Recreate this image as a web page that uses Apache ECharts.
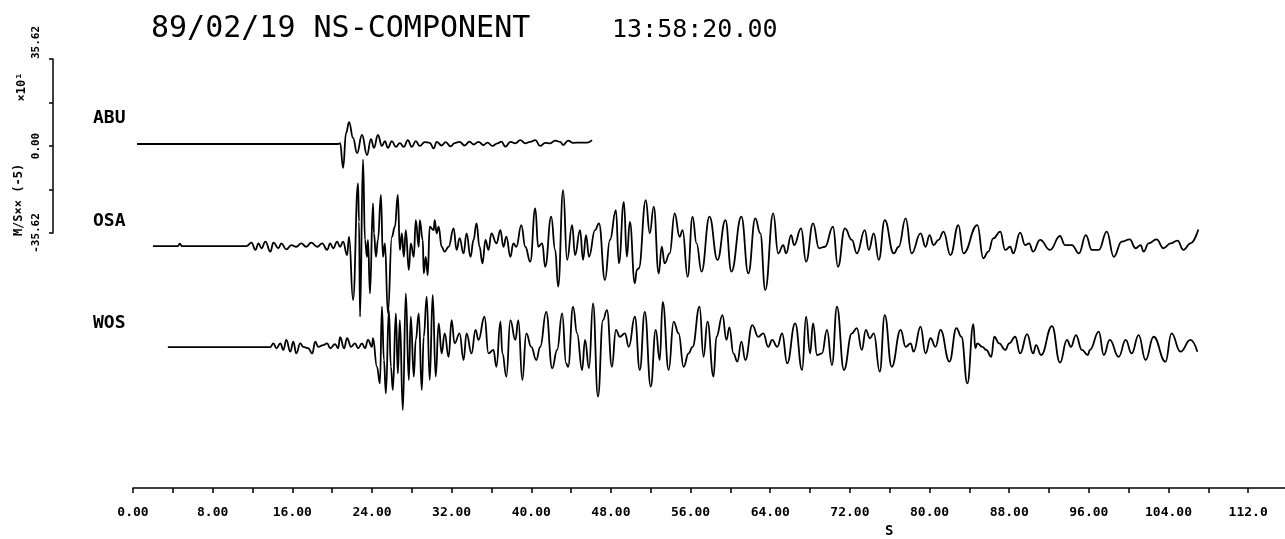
<!DOCTYPE html>
<html>
<head>
<meta charset="utf-8">
<script src="https://cdn.jsdelivr.net/npm/echarts@6/dist/echarts.min.js"></script>
<style>
html,body{margin:0;padding:0;background:#fff;}
#chart{width:1285px;height:539px;}
</style>
</head>
<body>
<div id="chart"></div>
<script>
// ---- data (time in s, amplitude in x10^1 M/S**(-5)) ----
const stationNames = ['ABU', 'OSA', 'WOS'];
const traceOffsets = [0, -41.76, -83.1];
const xTickValues = [0,4,8,12,16,20,24,28,32,36,40,44,48,52,56,60,64,68,72,76,80,84,88,92,96,100,104,108,112];
const xLabelValues = [0,8,16,24,32,40,48,56,64,72,80,88,96,104,112];
const scaleLabelValues = [-35.62, 0, 35.62];

const ABU = [[0.4,0],[20.6,0],[20.8,0.4],[21.1,-9.8],[21.4,4.5],[21.7,9.0],[22.1,2.5],[22.5,-3.7],[23.0,3.7],[23.5,-4.5],[23.9,2.0],[24.2,-1.6],[24.6,3.7],[25.0,-0.8],[25.3,1.2],[25.6,-1.6],[26.0,1.2],[26.4,-1.2],[26.8,0.4],[27.2,-1.2],[27.6,1.6],[28.0,-1.2],[28.4,1.2],[28.8,-0.8],[29.3,0.8],[29.8,0.5],[30.2,-1.8],[30.5,0.9],[31.0,-0.6],[31.4,0.8],[31.9,-1.0],[32.3,0.4],[32.8,0.9],[33.3,-0.6],[33.8,1.0],[34.2,-0.2],[34.7,0.9],[35.2,-0.4],[35.6,0.6],[36.1,-0.8],[36.6,0.3],[37.0,1.0],[37.4,-1.1],[37.9,0.9],[38.4,0.3],[38.9,1.6],[39.4,0.3],[39.9,0.9],[40.4,1.6],[40.9,-0.8],[41.4,0.5],[41.9,0.3],[42.4,1.4],[42.9,0.9],[43.2,-0.4],[43.7,1.4],[44.2,0.5],[44.9,0.6],[45.6,0.6],[46.1,1.6]];

const OSA = [[2.0,0],[4.5,0],[4.7,1.0],[4.9,0],[11.4,0],[11.9,1.4],[12.3,-1.6],[12.6,1.1],[12.9,-0.9],[13.3,1.8],[13.8,-2.3],[14.1,1.4],[14.6,-0.9],[14.9,1.1],[15.4,-1.4],[15.9,0.4],[16.4,-0.3],[16.9,1.1],[17.4,-0.3],[17.9,1.4],[18.5,-0.3],[19.0,1.1],[19.5,-1.6],[19.8,1.1],[20.1,-0.9],[20.5,1.8],[20.8,-0.3],[21.1,1.8],[21.5,-3.7],[21.7,3.8],
[22.1,-22.1],[22.6,25.6],[22.7,10],[22.8,-28.9],[23.1,35.5],[23.3,2.5],[23.5,-4.4],[23.6,2.5],[23.8,-19.4],[24.1,17.5],[24.2,5.2],[24.4,-4.4],[24.6,2.5],[24.9,20.9],[25.1,-4.4],[25.3,1.1],[25.6,-27.4],[26.0,3.8],[26.3,7.9],[26.6,20.9],[26.8,-1.6],[27.0,5.2],[27.2,-4.4],[27.4,6.5],[27.7,-9.8],[27.9,1.1],[28.2,-4.4],[28.4,10.6],[28.7,-0.3],[28.8,10.6],[29.1,2.5],[29.2,-11.2],[29.4,-4.4],[29.6,-11.9],[29.8,7.9],[30.2,6.5],[30.3,10.6],[30.5,5.2],[30.7,7.9],[31.0,-0.3],[31.3,-2.3],[31.7,-0.3],[32.2,7.2],[32.5,-1.6],[32.8,3.2],[33.2,-3.0],[33.5,5.2],[33.9,-4.4],[34.2,2.5],[34.5,9.3],[34.8,-0.3],[35.1,-7.1],[35.4,2.5],[35.7,-1.6],[36.0,5.2],[36.5,1.1],[36.9,6.5],
[37.2,-0.3],[37.5,3.8],[37.9,-4.4],[38.2,1.1],[38.5,-0.3],[39.0,8.6],[39.4,-0.3],[39.9,-6.4],[40.4,15.4],[40.7,-0.3],[41.1,1.1],[41.4,-8.5],[42.0,12.0],[42.4,-1.6],[42.7,-16.6],[43.2,22.9],[43.6,-5.7],[44.1,8.6],[44.4,-3.7],[44.9,6.5],[45.2,-5.7],[45.5,4.5],[45.8,-4.4],[46.4,6.5],[46.8,9.3],[47.4,-13.9],[47.9,2.5],[48.5,14.7],[48.8,-7.1],[49.3,18.1],[49.6,-4.4],[49.9,9.9],[50.4,-15.3],[50.6,-9.8],[50.8,-9.1],[51.5,18.8],[51.9,5.2],[52.3,16.1],[52.8,-11.2],[53.1,-0.3],[53.4,-7.1],[53.9,-3.0],[54.4,13.4],[54.9,3.8],[55.2,6.5],[55.7,-12.6],[56.2,12.0],[56.6,1.1],[57.1,-10.5],[57.9,12.0],[58.7,-5.7],[59.5,10.6],[60.1,-10.5],
[61.1,12.0],[61.8,-11.2],[62.5,11.3],[63.0,5.2],[63.5,-18.0],[64.3,13.4],[64.8,-3.0],[65.3,0.4],[65.6,-3.0],[66.1,4.5],[66.4,0.4],[67.1,7.2],[67.6,-6.4],[68.3,9.3],[68.9,-0.9],[69.5,-0.3],[70.3,7.9],[70.8,-8.5],[71.5,7.2],[72.2,2.5],[72.7,-3.0],[73.5,6.5],[73.9,-1.6],[74.4,5.2],[74.9,-5.7],[75.5,10.6],[76.4,-3.0],[76.9,-0.3],[77.6,11.3],[78.2,-3.0],[79.1,5.2],[79.6,-0.3],[80.0,4.5],[80.4,0.4],[80.9,2.5],[81.4,5.9],[82.1,-3.7],[82.9,8.6],[83.4,-3.0],
[84.8,8.6],[85.4,-5.0],[85.9,-2.3],[86.4,3.1],[87.1,5.9],[87.6,-1.6],[88.1,-0.3],[88.4,-3.0],[89.1,5.5],[89.6,0.4],[90.0,1.1],[90.4,-2.3],[91.1,2.5],[92.1,-1.6],[93.1,4.1],[93.6,0.4],[94.3,0.4],[95.0,-3.0],[95.7,4.5],[96.3,-1.6],[97.0,-1.6],[97.8,5.9],[98.5,-4.4],[99.3,1.8],[100.1,2.7],[100.7,-0.9],[101.2,0.4],[101.5,-2.3],[102.0,1.1],[102.8,2.7],[103.5,-0.9],[104.2,1.1],[104.9,2.2],[105.5,-1.6],[106.2,1.1],[107.0,6.8]];

const WOS = [[3.5,0],[13.8,0],[14.1,1.5],[14.4,-0.5],[14.8,1.5],[15.1,-1.2],[15.4,2.9],[15.8,-1.9],[16.1,2.2],[16.4,-2.6],[16.8,1.5],[17.1,0.1],[17.6,-0.5],[18.0,-2.6],[18.3,2.2],[18.6,0.1],[19.1,0.8],[19.5,1.5],[19.8,-0.5],[20.3,1.2],[20.6,-0.5],[20.8,4.0],[21.2,-0.5],[21.5,3.6],[21.9,0.1],[22.3,1.5],[22.6,-0.5],[23.0,1.5],[23.3,-0.5],[23.6,2.9],[24.0,0.1],[24.1,3.6],
[24.5,-8.1],[24.8,-14.9],[25.0,16.5],[25.2,-5.3],[25.4,-19.0],[25.7,15.1],[25.9,-8.1],[26.1,-17.6],[26.4,13.8],[26.6,-10.8],[26.8,11.0],[27.1,-25.8],[27.4,22.0],[27.7,-13.5],[27.9,12.4],[28.2,-12.1],[28.4,2.9],[28.7,13.8],[29.0,-17.6],[29.2,4.2],[29.5,20.6],[29.8,-13.5],[30.1,21.3],[30.4,-12.1],[30.7,9.7],[31.0,-2.6],[31.3,5.6],[31.7,-4.0],[32.0,11.0],[32.3,1.5],[32.8,5.6],[33.2,-5.3],[33.5,5.6],[34.0,-2.6],[34.4,7.0],[34.7,2.9],[35.3,12.4],[35.7,-2.6],[36.2,-1.2],[36.5,-8.1],[36.9,10.4],
[37.1,-2.6],[37.5,-12.1],[37.9,11.0],[38.4,2.9],[38.7,11.0],[39.1,-13.5],[39.5,5.6],[40.0,0.1],[40.5,-5.3],[40.9,0.1],[41.5,14.4],[42.1,-8.7],[42.6,-1.2],[43.1,13.8],[43.5,-6.7],[43.7,-8.1],[44.2,16.5],[44.6,5.6],[45.1,-9.4],[45.4,2.9],[45.8,-8.7],[46.2,17.9],[46.7,-20.3],[47.2,11.0],[47.6,15.1],[48.1,-8.1],[48.5,7.0],[48.9,4.2],[49.4,5.6],[49.8,0.1],[50.4,12.4],[50.9,-9.4],[51.4,14.4],[52.0,-16.2],[52.5,7.0],[52.9,-5.3],[53.2,18.5],[53.8,-9.4],[54.3,10.4],[54.8,5.6],[55.3,-8.1],[55.8,-2.6],[56.2,0.1],[56.9,16.5],[57.3,-4.0],[57.7,10.4],[58.3,-12.1],[58.6,4.2],[59.2,13.1],[59.6,2.9],[59.9,8.0],[60.3,-2.6],[60.7,-6.0],[61.1,2.2],[61.5,-5.3],[62.2,9.0],
[62.8,4.2],[63.3,5.6],[63.8,0.1],[64.2,2.9],[64.7,0.1],[65.2,5.6],[65.7,-6.7],[66.5,9.7],[67.2,-9.4],[67.6,12.4],[68.0,-2.6],[68.3,9.7],[68.7,-3.3],[69.2,-2.6],[69.7,7.0],[70.2,-7.4],[70.7,16.5],[71.4,-9.4],[72.2,5.6],[72.7,7.7],[73.2,-1.2],[73.6,7.0],[74.0,3.6],[74.4,5.6],[75.0,-10.1],[75.5,13.1],[76.2,-8.1],[77.1,7.0],[77.6,0.1],[78.1,1.5],[78.4,-1.9],[79.1,8.3],[79.6,-2.6],[80.1,3.6],[80.6,0.1],[81.1,7.0],[82.0,-6.0],[82.7,7.7],[83.2,4.2],[83.8,-14.9],[84.4,9.4],
[84.6,-0.5],[84.8,1.5],[85.3,0.1],[85.7,-1.2],[86.2,-4.0],[86.5,4.2],[87.0,1.5],[87.6,-1.2],[88.0,1.5],[88.6,4.2],[89.1,-2.6],[89.8,5.3],[90.4,-2.6],[90.7,0.8],[91.2,-3.3],[92.3,8.6],[93.1,-6.4],[93.8,2.9],[94.2,0.1],[94.7,4.9],[95.3,-1.2],[95.9,-3.3],[96.1,-1.2],[97.0,6.3],[97.5,-3.3],[98.1,2.9],[99.0,-4.0],[99.7,2.9],[100.3,-2.6],[101.0,4.9],[101.7,-5.3],[102.5,4.2],[103.7,-6.0],[104.3,5.6],[105.2,-1.9],[106.2,2.9],[106.9,-1.9]];

const traces = [ABU, OSA, WOS];

const chart = echarts.init(document.getElementById('chart'), null, {renderer: 'canvas'});

const monoBold = {fontFamily: 'DejaVu Sans Mono', fontWeight: 'bold', color: '#000'};

const series = traces.map((tr, i) => ({
  name: stationNames[i],
  type: 'line',
  xAxisIndex: 0,
  yAxisIndex: 0,
  showSymbol: false,
  smooth: 0.45,
  smoothMonotone: 'x',
  animation: false,
  lineStyle: {color: '#000', width: 1.8, join: 'round'},
  data: tr.map(p => [p[0], p[1] + traceOffsets[i]])
}));

const labelTops = [104, 207, 309];

const option = {
  backgroundColor: '#fff',
  animation: false,
  title: [
    {text: '89/02/19 NS-COMPONENT', left: 146, top: 9,
     textStyle: {fontFamily: 'DejaVu Sans Mono', fontWeight: 'normal', fontSize: 30, color: '#000'}},
    {text: '13:58:20.00', left: 607, top: 13,
     textStyle: {fontFamily: 'DejaVu Sans Mono', fontWeight: 'normal', fontSize: 25, color: '#000'}},
    {text: 'S', left: 880, top: 519,
     textStyle: Object.assign({fontSize: 14}, monoBold)}
  ].concat(stationNames.map((n, i) => ({
     text: n, left: 88, top: labelTops[i],
     textStyle: Object.assign({fontSize: 18}, monoBold)
  }))),
  grid: [
    {left: 133, right: 0, top: 0, bottom: 51},
    {left: 53, top: 59, width: 1, height: 174}
  ],
  xAxis: [
    {
      gridIndex: 0, type: 'value', min: 0, max: 115.7, position: 'bottom',
      axisLine: {show: true, onZero: false, lineStyle: {color: '#000', width: 1.6}},
      axisTick: {show: true, length: 5, customValues: xTickValues, lineStyle: {color: '#000', width: 1.5}},
      axisLabel: {
        customValues: xLabelValues, margin: 18,
        fontSize: 13, fontFamily: 'DejaVu Sans Mono', fontWeight: 'bold', color: '#000',
        formatter: v => (v >= 112 ? v.toFixed(1) : v.toFixed(2))
      },
      splitLine: {show: false}
    },
    {gridIndex: 1, type: 'value', show: false, min: 0, max: 1}
  ],
  yAxis: [
    {gridIndex: 0, type: 'value', show: false, min: -140.8, max: 58.95, splitLine: {show: false}},
    {
      gridIndex: 1, type: 'value', min: -35.62, max: 35.62, interval: 17.81,
      axisLine: {show: true, onZero: false, lineStyle: {color: '#000', width: 1.5}},
      axisTick: {show: true, length: 4, lineStyle: {color: '#000', width: 1.5}},
      axisLabel: {
        customValues: scaleLabelValues, rotate: 90, margin: 11,
        fontSize: 11, fontFamily: 'DejaVu Sans Mono', fontWeight: 'bold', color: '#000',
        formatter: v => v.toFixed(2),
        alignMaxLabel: 'left'
      },
      splitLine: {show: false}
    }
  ],
  graphic: [
    {type: 'text', x: 19, y: 200, rotation: Math.PI / 2,
     style: {text: 'M/S×× (-5)', fill: '#000', font: 'bold 12px "DejaVu Sans Mono"', align: 'center', verticalAlign: 'middle'}},
    {type: 'text', x: 22, y: 87, rotation: Math.PI / 2,
     style: {text: '×10¹', fill: '#000', font: 'bold 12px "DejaVu Sans Mono"', align: 'center', verticalAlign: 'middle'}}
  ],
  series: series
};

chart.setOption(option);
</script>
</body>
</html>
